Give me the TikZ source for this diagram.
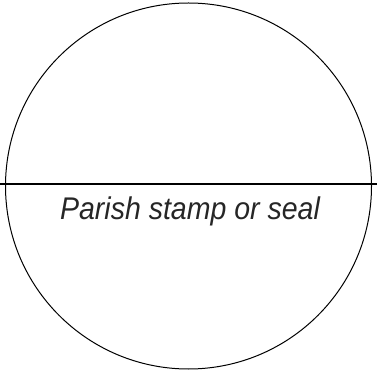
\documentclass[tikz,border=0pt]{standalone}
\usepackage{fontspec}
\setmainfont{Liberation Sans}
\usetikzlibrary{calc}

\begin{document}
\begin{tikzpicture}[
    x=1pt, y=1pt,
    seal/.style = {draw, line width=1pt},
    lbl/.style  = {font=\itshape\fontsize{28.5}{32}\selectfont, text=black!85,
                   inner sep=0pt, yscale=1.1, transform shape},
  ]

  % ---------- size of the page ----------
  \useasboundingbox (0,0) rectangle (377,372);

  % ---------- key points ----------
  \def\R{183}
  \coordinate (O) at (188.5,186);
  \coordinate (L) at (0,188);
  \coordinate (R) at (377,188);

  % ---------- the stamp circle ----------
  \draw[seal] (O) circle (\R);

  % ---------- dividing line ----------
  \draw[line width=1.2pt] (L) -- (R);

  % ---------- label under the line ----------
  \node[lbl, anchor=base] (stamp) at (190,152) {Parish stamp or seal};

\end{tikzpicture}
\end{document}
